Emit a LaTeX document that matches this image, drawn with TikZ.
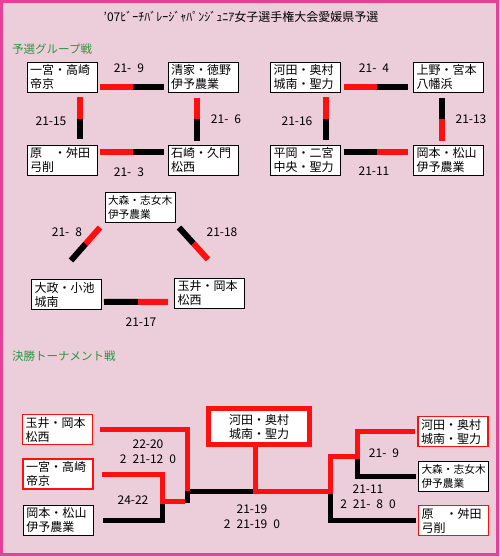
\documentclass[tikz,border=0pt]{standalone}
\usepackage{fontspec}
\setmainfont{Noto Sans CJK JP}
\usetikzlibrary{positioning,calc}
\definecolor{bgpink}{RGB}{236,206,218}
\definecolor{framepink}{RGB}{232,64,150}
\definecolor{headgreen}{RGB}{40,150,60}
\definecolor{barred}{RGB}{255,16,16}
\newcommand{\scorefont}{\fontsize{12}{15}\selectfont\spaceskip=6pt\relax}
\tikzset{
  teambox/.style={draw, line width=1pt, fill=white, text width=64pt, minimum height=30pt, inner xsep=3pt, inner ysep=1pt, align=left, font=\fontsize{12}{14}\selectfont},
  widebox/.style={teambox, font=\fontsize{10.7}{14}\selectfont},
  seedbox/.style={teambox, draw=barred, line width=1.6pt},
  champbox/.style={draw=barred, line width=5pt, fill=white, minimum width=101pt, minimum height=36pt, align=center, font=\fontsize{12}{14}\selectfont},
  winbar/.style={draw=barred, line width=6pt},
  losebar/.style={draw=black, line width=6pt},
  winline/.style={draw=barred, line width=5pt},
  loseline/.style={draw=black, line width=5pt},
  score/.style={font=\scorefont, align=center},
  heading/.style={font=\fontsize{11.5}{14}\selectfont, text=headgreen, anchor=west, inner sep=0pt}
}

\begin{document}
\begin{tikzpicture}[x=1pt, y=-1pt]
  \useasboundingbox (0,0) rectangle (502,557);
  \fill[bgpink] (0,0) rectangle (502,557);
  \draw[framepink, line width=3pt] (1.5,1.5) rectangle (497.5,554);

  \node[font=\fontsize{12}{14}\selectfont] (title) at (241,17) {'07ﾋﾞｰﾁﾊﾞﾚｰｼﾞｬﾊﾟﾝｼﾞｭﾆｱ女子選手権大会愛媛県予選};
  \node[heading] (hgroup) at (12,49) {予選グループ戦};
  \node[heading] (hfinal) at (12,356) {決勝トーナメント戦};

  % group A
  \node[teambox] (ichi) at (62,77) {一宮・高崎\\帝京};
  \node[teambox] (seike) at (203,77) {清家・徳野\\伊予農業};
  \node[teambox] (hara) at (62,160) {原　・舛田\\弓削};
  \node[teambox] (ishi) at (203,160) {石崎・久門\\松西};
  \draw[winbar] ($(ichi.east)+(2,10)$) -- ($(ichi.east)!0.5!(seike.west)+(0,10)$);
  \draw[losebar] ($(ichi.east)!0.5!(seike.west)+(0,10)$) -- ($(seike.west)+(-4,10)$);
  \draw[winbar] ($(ichi.south)+(18,4)$) -- ($(ichi.south)!0.5!(hara.north)+(18,0)$);
  \draw[losebar] ($(ichi.south)!0.5!(hara.north)+(18,0)$) -- ($(hara.north)+(18,-6)$);
  \draw[winbar] ($(seike.south)+(-6,5)$) -- ($(seike.south)!0.5!(ishi.north)+(-6,0)$);
  \draw[losebar] ($(seike.south)!0.5!(ishi.north)+(-6,0)$) -- ($(ishi.north)+(-6,-4)$);
  \draw[winbar] ($(hara.east)+(2,-8)$) -- ($(hara.east)!0.5!(ishi.west)+(0,-8)$);
  \draw[losebar] ($(hara.east)!0.5!(ishi.west)+(0,-8)$) -- ($(ishi.west)+(-4,-8)$);
  \node[score] (sa1) at (129,68) {21- 9};
  \node[score] (sa2) at (51,121) {21-15};
  \node[score] (sa3) at (226,119) {21- 6};
  \node[score] (sa4) at (129,172) {21- 3};

  % group B
  \node[teambox] (kawa) at (305.5,77) {河田・奥村\\城南・聖力};
  \node[teambox] (ueno) at (448.5,77) {上野・宮本\\八幡浜};
  \node[teambox] (hira) at (305.5,160) {平岡・二宮\\中央・聖力};
  \node[teambox] (oka) at (448.5,160) {岡本・松山\\伊予農業};
  \draw[winbar] ($(kawa.east)+(3,10)$) -- ($(kawa.east)!0.5!(ueno.west)+(0,10)$);
  \draw[losebar] ($(kawa.east)!0.5!(ueno.west)+(0,10)$) -- ($(ueno.west)+(-5,10)$);
  \draw[winbar] ($(kawa.south)+(20.5,4)$) -- ($(kawa.south)!0.5!(hira.north)+(20.5,0)$);
  \draw[losebar] ($(kawa.south)!0.5!(hira.north)+(20.5,0)$) -- ($(hira.north)+(20.5,-5)$);
  \draw[losebar] ($(ueno.south)+(-6.5,5)$) -- ($(ueno.south)!0.5!(oka.north)+(-6.5,0)$);
  \draw[winbar] ($(ueno.south)!0.5!(oka.north)+(-6.5,0)$) -- ($(oka.north)+(-6.5,-4)$);
  \draw[losebar] ($(hira.east)+(3,-8)$) -- ($(hira.east)!0.5!(oka.west)+(0,-8)$);
  \draw[winbar] ($(hira.east)!0.5!(oka.west)+(0,-8)$) -- ($(oka.west)+(-5,-8)$);
  \node[score] (sb1) at (374,68) {21- 4};
  \node[score] (sb2) at (297,121) {21-16};
  \node[score] (sb3) at (471,119) {21-13};
  \node[score] (sb4) at (374,171) {21-11};

  % group C
  \node[widebox] (omori) at (140,207) {大森・志女木\\伊予農業};
  \node[teambox] (omasa) at (66.5,294.5) {大政・小池\\城南};
  \node[teambox] (tamai) at (209.5,293) {玉井・岡本\\松西};
  \coordinate (c1s) at ($(omori.south west)+(-4.5,5)$);
  \coordinate (c1e) at ($(omasa.north)+(4.5,-18.5)$);
  \draw[winbar] (c1s) -- ($(c1s)!0.5!(c1e)$);
  \draw[losebar] ($(c1s)!0.5!(c1e)$) -- (c1e);
  \coordinate (c2s) at ($(omori.south east)+(3.5,5)$);
  \coordinate (c2e) at ($(tamai.north)+(-1.5,-18)$);
  \draw[losebar] (c2s) -- ($(c2s)!0.5!(c2e)$);
  \draw[winbar] ($(c2s)!0.5!(c2e)$) -- (c2e);
  \draw[losebar] ($(omasa.east)+(2,7.5)$) -- ($(omasa.east)!0.5!(tamai.west)+(0,8)$);
  \draw[winbar] ($(omasa.east)!0.5!(tamai.west)+(0,8)$) -- ($(tamai.west)+(-6,9)$);
  \node[score] (sc1) at (67,232) {21- 8};
  \node[score] (sc2) at (222,232) {21-18};
  \node[score] (sc3) at (141,322) {21-17};

  % final tournament
  \node[seedbox] (tamai2) at (57.5,429.5) {玉井・岡本\\松西};
  \node[seedbox] (ichi2) at (58,474) {一宮・高崎\\帝京};
  \node[teambox] (oka2) at (58.5,520) {岡本・松山\\伊予農業};
  \node[champbox] (champ) at (259,426.5) {河田・奥村\\城南・聖力};
  \node[seedbox] (kawa2) at (453,431.5) {河田・奥村\\城南・聖力};
  \node[widebox] (omori2) at (453.5,476) {大森・志女木\\伊予農業};
  \node[seedbox] (hara2) at (453.5,520.5) {原　・舛田\\弓削};

  \coordinate (semiL) at (187,491);
  \coordinate (firstL) at (162,501);
  \coordinate (finalC) at (255,491);
  \coordinate (semiR) at (330,491);
  \coordinate (firstR) at (357,456);

  \draw[loseline] ([xshift=9pt]oka2.east) -| (firstL);
  \draw[loseline] ($(firstL)+(25,1.5)$) |- (finalC);
  \draw[loseline] (firstR) |- ([xshift=-2pt]omori2.west);
  \draw[loseline] (semiR) |- ([xshift=-2pt]hara2.west);
  \draw[winline] ([xshift=7pt]tamai2.east) -| (semiL);
  \draw[winline] ([xshift=8pt]ichi2.east) -| (firstL) -- ++(23,0);
  \draw[winline] ([xshift=-4pt]champ.south) -- (finalC) -- (semiR) |- (firstR) |- ([xshift=-2pt]kawa2.west);

  \node[score] (sf1) at (148,451.5) {22-20\\2 21-12 0};
  \node[score] (sf2) at (133,500) {24-22};
  \node[score] (sf3) at (252,516.5) {21-19\\2 21-19 0};
  \node[score] (sf4) at (384,453) {21- 9};
  \node[score] (sf5) at (368,496.5) {21-11\\2 21- 8 0};
\end{tikzpicture}
\end{document}
